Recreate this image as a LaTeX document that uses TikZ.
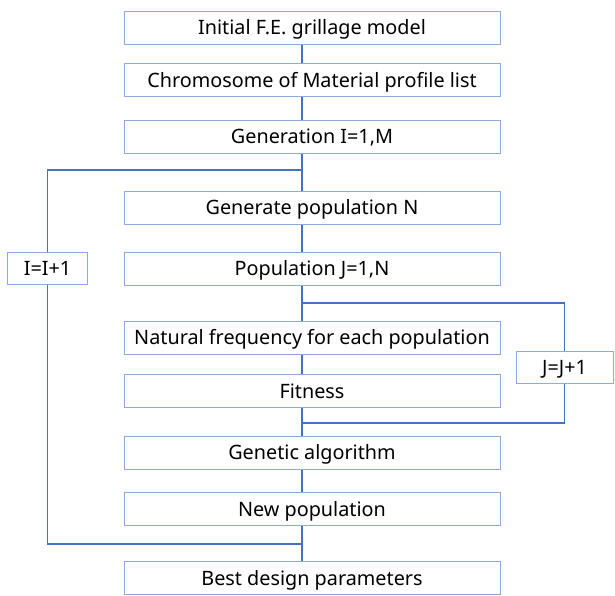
\documentclass[tikz,border=0pt]{standalone}
\usepackage{fontspec}
\setmainfont{Noto Sans}
\usetikzlibrary{calc}

\definecolor{linkblue}{RGB}{68,114,196}
\definecolor{boxblue}{RGB}{143,170,220}

\tikzset{
  stepbox/.style={draw=boxblue, line width=1pt, minimum width=376pt,
                  minimum height=33pt, inner sep=0pt, text height=14pt, text depth=0pt,
                  font=\fontsize{19.8}{22}\selectfont},
  countbox/.style={stepbox, minimum width=80pt, minimum height=32pt},
  link/.style={draw=linkblue, line width=1.1pt}
}

\begin{document}
\begin{tikzpicture}[x=1pt, y=-1pt]
  \useasboundingbox (0,0) rectangle (615,595);

  \node [stepbox] (model)   at (312, 27.5) {Initial F.E. grillage model};
  \node [stepbox] (chrom)   at (312, 80)   {Chromosome of Material profile list};
  \node [stepbox] (gen)     at (312, 136.5){Generation I=1,M};
  \node [stepbox] (genpop)  at (312, 207.5){Generate population N};
  \node [stepbox] (pop)     at (312, 268.5){Population J=1,N};
  \node [stepbox] (freq)    at (312, 337.5){Natural frequency for each population};
  \node [stepbox] (fit)     at (312, 391)  {Fitness};
  \node [stepbox] (ga)      at (312, 452.5){Genetic algorithm};
  \node [stepbox] (newpop)  at (312, 509)  {New population};
  \node [stepbox] (best)    at (312, 578)  {Best design parameters};

  \node [countbox] (incI) at (47.5, 268)  {I=I+1};
  \node [countbox, minimum width=97pt] (incJ) at (564.5, 367.5) {J=J+1};

  \coordinate (spine) at (302, 0);
  \coordinate (loopI)   at (302, 170);
  \coordinate (backI)   at (302, 544);
  \coordinate (loopJ)   at (302, 303);
  \coordinate (backJ)   at (302, 423);

  % main flow
  \draw [link] (model.south -| spine) -- (chrom.north -| spine);
  \draw [link] (chrom.south -| spine) -- (gen.north -| spine);
  \draw [link] (gen.south -| spine) -- (genpop.north -| spine);
  \draw [link] (genpop.south -| spine) -- (pop.north -| spine);
  \draw [link] (pop.south -| spine) -- (freq.north -| spine);
  \draw [link] (freq.south -| spine) -- (fit.north -| spine);
  \draw [link] (fit.south -| spine) -- (ga.north -| spine);
  \draw [link] (ga.south -| spine) -- (newpop.north -| spine);
  \draw [link] (newpop.south -| spine) -- (best.north -| spine);

  % generation loop
  \draw [link] (loopI) -| (incI.north);
  \draw [link] (incI.south) |- (backI);

  % population loop
  \draw [link] (loopJ) -| (incJ.north);
  \draw [link] (incJ.south) |- (backJ);
\end{tikzpicture}
\end{document}
